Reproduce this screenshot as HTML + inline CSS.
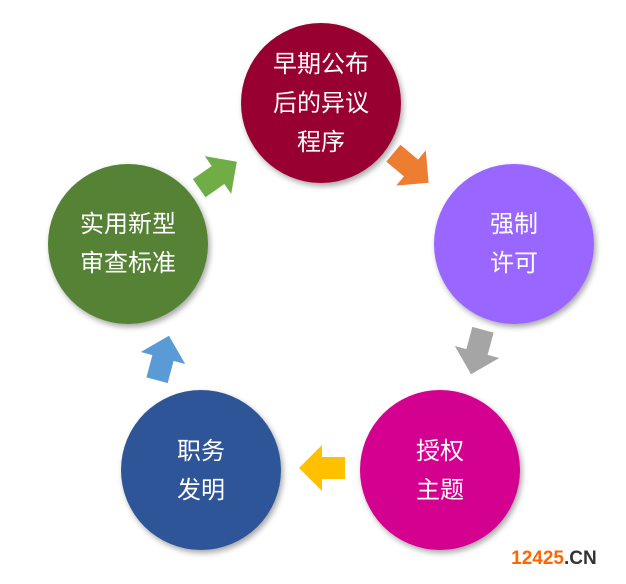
<!DOCTYPE html>
<html><head><meta charset="utf-8"><style>
body{margin:0;background:#fff;width:626px;height:579px;overflow:hidden}
svg text{font-family:"Liberation Sans","Noto Sans CJK SC",sans-serif;font-size:24px;fill:#fff;text-anchor:middle}
</style></head><body>
<svg width="626" height="579" viewBox="0 0 626 579">
<defs>
<filter id="s" x="-20%" y="-20%" width="140%" height="140%"><feDropShadow dx="2" dy="3" stdDeviation="3" flood-color="#000" flood-opacity="0.35"/></filter>
<path id="a" d="M-23,-11 L0,-11 L0,-23 L23,0 L0,23 L0,11 L-23,11 Z"/>
</defs>
<g filter="url(#s)">
<circle cx="321" cy="103" r="80" fill="#990033"/>
<circle cx="514" cy="244" r="80" fill="#9966ff"/>
<circle cx="440" cy="470" r="80" fill="#d4038f"/>
<circle cx="201" cy="470" r="80" fill="#2f5597"/>
<circle cx="128" cy="244" r="80" fill="#548235"/>
</g>
<use href="#a" fill="#70ad47" transform="translate(218,175) rotate(-35)"/>
<use href="#a" fill="#ed7d31" transform="translate(411,168) rotate(40)"/>
<use href="#a" fill="#a5a5a5" transform="translate(477,352) rotate(105)"/>
<use href="#a" fill="#ffc000" transform="translate(322,468) rotate(180)"/>
<use href="#a" fill="#5b9bd5" transform="translate(163,358) rotate(-75)"/>
<text x="321" y="72">早期公布</text><text x="321" y="111">后的异议</text><text x="321" y="150">程序</text>
<text x="514" y="232">强制</text><text x="514" y="271">许可</text>
<text x="440" y="459">授权</text><text x="440" y="498">主题</text>
<text x="201" y="459">职务</text><text x="201" y="498">发明</text>
<text x="128" y="232">实用新型</text><text x="128" y="271">审查标准</text>
<text x="564" y="564" style="font-size:19px;font-weight:bold;fill:#ff6600;text-anchor:end">12425</text>
<text x="564" y="564" style="font-size:19px;font-weight:bold;fill:#333;text-anchor:start">.CN</text>
</svg>
</body></html>
